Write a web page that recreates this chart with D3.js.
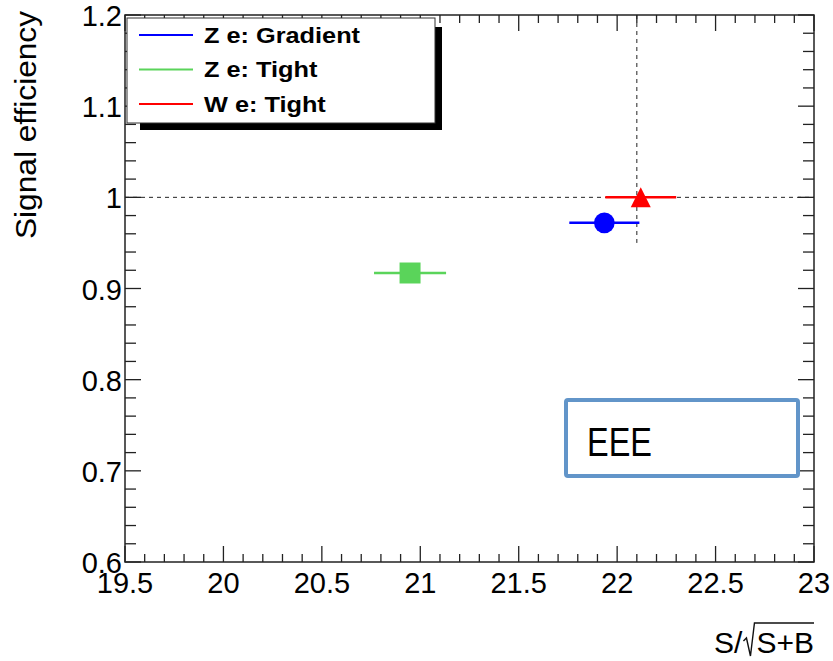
<!DOCTYPE html>
<html>
<head>
<script src="https://cdn.jsdelivr.net/npm/d3@7"></script>
<style>
  body { margin: 0; background: #fff; }
  text { font-family: "Liberation Sans", Arial, sans-serif; }
</style>
</head>
<body>
<script>
  // points
  const names = ["Z e: Gradient", "Z e: Tight", "W e: Tight"];
  const colors = ["#0000ff", "#5ad45a", "#ff0000"];
  const shapes = ["circle", "square", "triangle"];
  const xVals = [21.935, 20.948, 22.12];
  const yVals = [0.972, 0.917, 1.0];
  const xLow = [21.757, 20.765, 21.94];
  const xHigh = [22.113, 21.131, 22.30];

  const xTicks = [19.5, 20, 20.5, 21, 21.5, 22, 22.5, 23];
  const yTicks = [0.6, 0.7, 0.8, 0.9, 1, 1.1, 1.2];
  const refX = 22.1, refY = 1.0;

  const W = 833, H = 661;
  const padL = 125, padR = 814, padT = 15, padB = 562;

  const svg = d3.select("body").append("svg")
    .attr("width", W).attr("height", H);

  const x = d3.scaleLinear().domain([19.5, 23]).range([padL, padR]);
  const y = d3.scaleLinear().domain([0.6, 1.2]).range([padB, padT]);

  const fmt = d => d3.format("")(d);

  // axes - major ticks with labels, minor without
  const xMinor = d3.range(19.5, 23.0001, 0.1);
  const yMinor = d3.range(0.6, 1.2001, 0.02);

  const axisG = svg.append("g").attr("stroke", "#222").attr("stroke-width", 1.3);
  xMinor.forEach(function(v, i) {
    const len = (i % 5 === 0) ? 16 : 8;
    axisG.append("line").attr("x1", x(v)).attr("x2", x(v)).attr("y1", padB).attr("y2", padB - len);
    axisG.append("line").attr("x1", x(v)).attr("x2", x(v)).attr("y1", padT).attr("y2", padT + len);
  });
  yMinor.forEach(function(v, i) {
    const len = (i % 5 === 0) ? 16 : 11;
    axisG.append("line").attr("y1", y(v)).attr("y2", y(v)).attr("x1", padL).attr("x2", padL + len);
    axisG.append("line").attr("y1", y(v)).attr("y2", y(v)).attr("x1", padR).attr("x2", padR - len);
  });
  svg.append("rect").attr("x", padL).attr("y", padT)
    .attr("width", padR - padL).attr("height", padB - padT)
    .attr("fill", "none").attr("stroke", "#222").attr("stroke-width", 1.5);

  svg.selectAll(".xl").data(xTicks).enter().append("text")
    .attr("x", d => x(d)).attr("y", 593)
    .attr("text-anchor", "middle").attr("font-size", 29)
    .text(fmt);
  svg.selectAll(".yl").data(yTicks).enter().append("text")
    .attr("x", 122).attr("y", d => y(d) + 11)
    .attr("text-anchor", "end").attr("font-size", 29)
    .text(fmt);

  // titles
  svg.append("text")
    .attr("transform", "translate(36,11) rotate(-90)")
    .attr("text-anchor", "end").attr("font-size", 30)
    .attr("textLength", 228).attr("lengthAdjust", "spacingAndGlyphs")
    .text("Signal efficiency");

  const xt = svg.append("g");
  const sb = xt.append("text").attr("x", padR).attr("y", 653)
    .attr("text-anchor", "end").attr("font-size", 30).text("S+B");
  const sbw = sb.node().getComputedTextLength();
  const r0 = padR - sbw - 1;
  xt.append("path")
    .attr("d", `M${r0 - 12},${641} L${r0 - 9},${638} L${r0 - 5},${656} L${r0 - 1},${623} L${padR},${623}`)
    .attr("fill", "none").attr("stroke", "#111").attr("stroke-width", 1.4);
  xt.append("text").attr("x", r0 - 13).attr("y", 653)
    .attr("text-anchor", "end").attr("font-size", 30).text("S/");

  // dashed reference lines
  svg.append("line").attr("x1", padL).attr("x2", padR).attr("y1", y(refY)).attr("y2", y(refY))
    .attr("stroke", "#222").attr("stroke-dasharray", "4,4").attr("stroke-width", 1);
  svg.append("line").attr("x1", x(refX)).attr("x2", x(refX)).attr("y1", padT).attr("y2", y(0.95))
    .attr("stroke", "#222").attr("stroke-dasharray", "4,4").attr("stroke-width", 1);

  // error bars and markers
  const pts = d3.range(names.length);
  svg.selectAll(".eb").data(pts).enter().append("line")
    .attr("x1", i => x(xLow[i])).attr("x2", i => x(xHigh[i]))
    .attr("y1", i => y(yVals[i])).attr("y2", i => y(yVals[i]))
    .attr("stroke", i => colors[i]).attr("stroke-width", 2.5);

  const tri = {
    draw(ctx, s) {
      const h = Math.sqrt(s) / 2;
      ctx.moveTo(0, -h); ctx.lineTo(h, h); ctx.lineTo(-h, h); ctx.closePath();
    }
  };
  const sym = { circle: d3.symbolCircle, square: d3.symbolSquare, triangle: tri };
  const size = { circle: 335, square: 441, triangle: 400 };
  svg.selectAll(".mk").data(pts).enter().append("path")
    .attr("transform", i => `translate(${x(xVals[i])},${y(yVals[i])})`)
    .attr("d", i => d3.symbol().type(sym[shapes[i]]).size(size[shapes[i]])())
    .attr("fill", i => colors[i]);

  // legend with shadow
  const lg = svg.append("g");
  lg.append("rect").attr("x", 140).attr("y", 27).attr("width", 302).attr("height", 103).attr("fill", "#000");
  lg.append("rect").attr("x", 127).attr("y", 18).attr("width", 308).attr("height", 105)
    .attr("fill", "#fff").attr("stroke", "#333").attr("stroke-width", 1);
  names.forEach(function(n, i) {
    const ly = 35 + i * 34.5;
    lg.append("line").attr("x1", 139).attr("x2", 193).attr("y1", ly).attr("y2", ly)
      .attr("stroke", colors[i]).attr("stroke-width", 2);
    const t = lg.append("text").attr("x", 204).attr("y", ly + 7.5).attr("font-size", 22)
      .attr("font-weight", "bold").text(n);
    const w = t.node().getComputedTextLength();
    t.attr("textLength", w * 1.15).attr("lengthAdjust", "spacingAndGlyphs");
  });

  // EEE box
  svg.append("rect").attr("x", 566).attr("y", 400).attr("width", 232).attr("height", 76)
    .attr("rx", 2).attr("fill", "#fff").attr("stroke", "#6295c9").attr("stroke-width", 4);
  svg.append("text").attr("x", 587).attr("y", 456).attr("font-size", 41)
    .attr("textLength", 65).attr("lengthAdjust", "spacingAndGlyphs")
    .attr("font-family", "'Open Sans', 'DejaVu Sans', sans-serif").text("EEE");
</script>
</body>
</html>
